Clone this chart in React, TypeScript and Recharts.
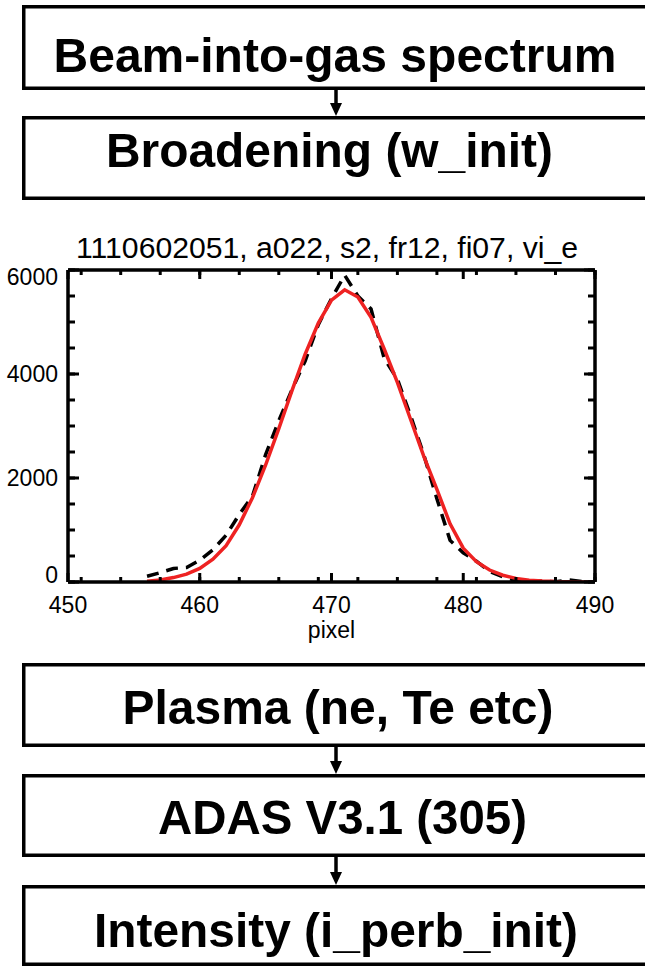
import React from 'react';
import { LineChart, Line, XAxis, YAxis } from 'recharts';

// ---------- data ----------
const pixels = [
  456, 457, 458, 459, 460, 461, 462, 463, 464, 465, 466, 467, 468, 469, 470, 471, 472,
  473, 474, 475, 476, 477, 478, 479, 480, 481, 482, 483, 484, 485, 486, 487, 488, 489, 490,
];
const measured = [
  110, 180, 260, 280, 420, 620, 900, 1300, 1650, 2450, 3100, 3700, 4250, 4950, 5450, 5900, 5500,
  5250, 4300, 3900, 3200, 2450, 1600, 800, 560, 400, 200, 100, 30, 10, 20, 5, 40, 10, 0,
];
const fitted = [
  15, 40, 85, 150, 260, 440, 700, 1100, 1620, 2250, 2950, 3680, 4380, 4980, 5420, 5620, 5480,
  5090, 4480, 3840, 3130, 2420, 1780, 1120, 650, 390, 230, 130, 70, 35, 18, 8, 4, 2, 0,
];
const xMajorTicks = [450, 460, 470, 480, 490];
const xMinorTicks = [
  450, 451, 452, 453, 454, 455, 456, 457, 458, 459, 460, 461, 462, 463, 464, 465, 466, 467, 468, 469,
  470, 471, 472, 473, 474, 475, 476, 477, 478, 479, 480, 481, 482, 483, 484, 485, 486, 487, 488, 489, 490,
];
const yMajorTicks = [0, 2000, 4000, 6000];
const yMinorTicks = [0, 500, 1000, 1500, 2000, 2500, 3000, 3500, 4000, 4500, 5000, 5500, 6000];
const chartTitle = '1110602051, a022, s2, fr12, fi07, vi_e';
const xAxisTitle = 'pixel';
const topBoxLabels = ['Beam-into-gas spectrum', 'Broadening (w_init)'];
const bottomBoxLabels = ['Plasma (ne, Te etc)', 'ADAS V3.1 (305)', 'Intensity (i_perb_init)'];

const rows = pixels.map((p, i) => ({ pixel: p, measured: measured[i], fitted: fitted[i] }));

const FONT = '"Liberation Sans", Arial, Helvetica, sans-serif';

// ---------- layout of flow boxes ----------
type Box = { label: string; top: number; bottom: number; cx: number; base: number; len: number };
const boxes: Box[] = [
  { label: topBoxLabels[0], top: 5, bottom: 90, cx: 335, base: 72, len: 563 },
  { label: topBoxLabels[1], top: 116, bottom: 200, cx: 329.5, base: 167, len: 447 },
  { label: bottomBoxLabels[0], top: 663, bottom: 747, cx: 338, base: 724, len: 431 },
  { label: bottomBoxLabels[1], top: 774, bottom: 857, cx: 342.5, base: 834, len: 369 },
  { label: bottomBoxLabels[2], top: 885, bottom: 966, cx: 336, base: 946.5, len: 484 },
];
const arrows = [
  [90, 116],
  [747, 774],
  [857, 885],
];

const YTick = (props: any) => {
  const { x, y, payload } = props;
  const v = payload.value;
  const adj = v === 6000 ? 7 : v === 0 ? -7 : 0;
  return (
    <text x={x} y={y + adj + 8} textAnchor="end" fontSize={23} fontFamily={FONT} fill="#000">
      {v}
    </text>
  );
};

const XTick = (props: any) => {
  const { x, y, payload } = props;
  return (
    <text x={x} y={y + 23} textAnchor="middle" fontSize={23} fontFamily={FONT} fill="#000">
      {payload.value}
    </text>
  );
};

const NoTick = () => <g />;

const PixelLabel = (props: any) => {
  const vb = props.viewBox || {};
  const cx = (vb.x ?? 68) + (vb.width ?? 527) / 2;
  return (
    <text x={cx} y={418} textAnchor="middle" fontSize={23} fontFamily={FONT} fill="#000">
      {xAxisTitle}
    </text>
  );
};

const tickStyle = { stroke: '#000', strokeWidth: 3 };

export default function App() {
  return (
    <div style={{ position: 'absolute', left: 0, top: 0, width: 645, height: 968, background: '#fff', overflow: 'hidden' }}>
      <svg width={645} height={968} style={{ position: 'absolute', left: 0, top: 0 }}>
        {boxes.map((b, i) => (
          <g key={i}>
            <rect
              x={23.75}
              y={b.top + 1.75}
              width={660}
              height={b.bottom - b.top - 3.5}
              fill="none"
              stroke="#000"
              strokeWidth={3.5}
            />
            <text
              x={b.cx}
              y={b.base}
              textAnchor="middle"
              fontFamily={FONT}
              fontWeight="bold"
              fontSize={49}
              textLength={b.len}
              lengthAdjust="spacingAndGlyphs"
              fill="#000"
            >
              {b.label}
            </text>
          </g>
        ))}
        {arrows.map(([a, t], i) => (
          <g key={i}>
            <line x1={336} y1={a} x2={336} y2={t - 11} stroke="#000" strokeWidth={3.5} />
            <polygon points={`${330},${t - 13} ${342},${t - 13} ${336},${t}`} fill="#000" />
          </g>
        ))}
        <text
          x={327}
          y={258}
          textAnchor="middle"
          fontFamily={FONT}
          fontSize={29}
          textLength={502}
          lengthAdjust="spacingAndGlyphs"
          fill="#000"
        >
          {chartTitle}
        </text>
      </svg>
      <div style={{ position: 'absolute', left: 0, top: 220 }}>
        <LineChart width={645} height={430} data={rows} margin={{ top: 50, right: 50, bottom: 8, left: 8 }}>
          {/* frame ticks (inward) */}
          <XAxis xAxisId="bmin" dataKey="pixel" orientation="bottom" mirror type="number" domain={[450, 490]} allowDataOverflow
            ticks={xMinorTicks} tick={<NoTick />} tickLine={tickStyle} tickSize={4} axisLine={false} height={1} stroke="#000" />
          <XAxis xAxisId="bmaj" dataKey="pixel" orientation="bottom" mirror type="number" domain={[450, 490]} allowDataOverflow
            ticks={xMajorTicks} tick={<NoTick />} tickLine={tickStyle} tickSize={9} axisLine={false} height={1} stroke="#000" />
          <XAxis xAxisId="tmin" dataKey="pixel" orientation="top" mirror type="number" domain={[450, 490]} allowDataOverflow
            ticks={xMinorTicks} tick={<NoTick />} tickLine={tickStyle} tickSize={4} axisLine={false} height={1} stroke="#000" />
          <XAxis xAxisId="tmaj" dataKey="pixel" orientation="top" mirror type="number" domain={[450, 490]} allowDataOverflow
            ticks={xMajorTicks} tick={<NoTick />} tickLine={tickStyle} tickSize={9}
            axisLine={{ stroke: '#000', strokeWidth: 3.5 }} height={1} stroke="#000" />
          <YAxis yAxisId="lmin" orientation="left" mirror type="number" domain={[0, 6000]} allowDataOverflow
            ticks={yMinorTicks} tick={<NoTick />} tickLine={tickStyle} tickSize={6} axisLine={false} width={1} stroke="#000" />
          <YAxis yAxisId="lmaj" orientation="left" mirror type="number" domain={[0, 6000]} allowDataOverflow
            ticks={yMajorTicks} tick={<NoTick />} tickLine={tickStyle} tickSize={11} axisLine={false} width={1} stroke="#000" />
          <YAxis yAxisId="rmin" orientation="right" mirror type="number" domain={[0, 6000]} allowDataOverflow
            ticks={yMinorTicks} tick={<NoTick />} tickLine={tickStyle} tickSize={6} axisLine={false} width={1} stroke="#000" />
          <YAxis yAxisId="rmaj" orientation="right" mirror type="number" domain={[0, 6000]} allowDataOverflow
            ticks={yMajorTicks} tick={<NoTick />} tickLine={tickStyle} tickSize={11}
            axisLine={{ stroke: '#000', strokeWidth: 3.5 }} width={1} stroke="#000" />
          {/* main axes with labels */}
          <XAxis dataKey="pixel" type="number" domain={[450, 490]} allowDataOverflow ticks={xMajorTicks}
            tick={<XTick />} tickLine={false} tickSize={0} tickMargin={8} height={60}
            axisLine={{ stroke: '#000', strokeWidth: 3.5 }} stroke="#000" label={<PixelLabel />} />
          <YAxis type="number" domain={[0, 6000]} allowDataOverflow ticks={yMajorTicks}
            tick={<YTick />} tickLine={false} tickSize={0} tickMargin={10} width={60}
            axisLine={{ stroke: '#000', strokeWidth: 3.5 }} stroke="#000" />
          <Line dataKey="measured" type="linear" stroke="#000" strokeWidth={3.5} strokeDasharray="12 8"
            dot={false} activeDot={false} isAnimationActive={false} />
          <Line dataKey="fitted" type="linear" stroke="#ee2222" strokeWidth={3.5}
            dot={false} activeDot={false} isAnimationActive={false} />
        </LineChart>
      </div>
    </div>
  );
}
